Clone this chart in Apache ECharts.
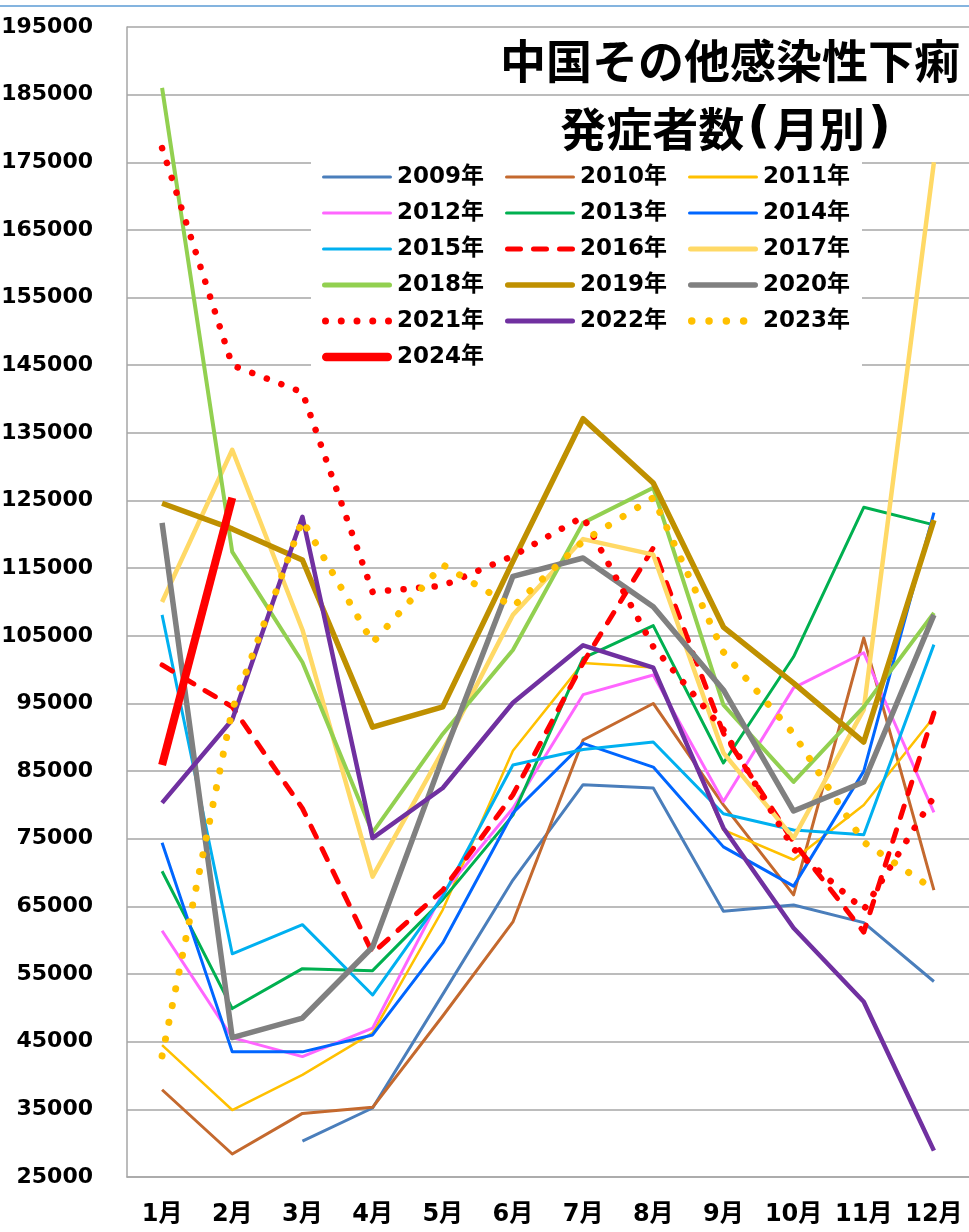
<!DOCTYPE html>
<html>
<head>
<meta charset="utf-8">
<script src="https://cdn.jsdelivr.net/npm/echarts@6/dist/echarts.min.js"></script>
<style>html,body{margin:0;padding:0;background:#fff}#c{width:969px;height:1232px}</style>
</head>
<body>
<div id="c"></div>
<script>
const months = ['1月','2月','3月','4月','5月','6月','7月','8月','9月','10月','11月','12月'];
const titleLine1 = '中国その他感染性下痢';
const titleLine2 = '発症者数{p|(}月別{p|)}';
const y2009 = [null, null, 30300, 35200, 52000, 68900, 83000, 82500, 64300, 65200, 62600, 53900];
const y2010 = [37900, 28400, 34400, 35300, 48800, 62700, 89600, 95000, 80000, 66700, 104700, 67400];
const y2011 = [44500, 34900, 40100, 46300, 64500, 88000, 101000, 100300, 76300, 71900, 80000, 93000];
const y2012 = [61400, 45600, 42800, 47000, 67000, 79500, 96300, 99200, 80500, 97300, 102500, 78900];
const y2013 = [70200, 49900, 55800, 55500, 66000, 78500, 101700, 106500, 86200, 101900, 124000, 121400];
const y2014 = [74400, 43500, 43500, 46000, 59600, 78800, 89100, 85600, 73800, 68000, 85000, 123200];
const y2015 = [108100, 58000, 62300, 51900, 66500, 85900, 88200, 89300, 78700, 76300, 75600, 103700];
const y2016 = [100700, 94500, 79500, 58100, 67400, 81500, 101000, 118000, 90600, 74500, 61200, 93600];
const y2017 = [110000, 132500, 105900, 69400, 88000, 108100, 119300, 117000, 87700, 75100, 94100, 175000];
const y2018 = [186000, 117400, 101100, 75900, 90500, 102900, 121700, 126900, 94800, 83400, 94500, 108400];
const y2019 = [124600, 120800, 116200, 91500, 94500, 116000, 137100, 127600, 106300, 98000, 89300, 122100];
const y2020 = [121700, 45600, 48500, 59000, 87000, 113800, 116500, 109300, 97000, 79100, 83400, 108100];
const y2021 = [177100, 145000, 141000, 111500, 112400, 116800, 122600, 103400, 91100, 73500, 64500, 81200];
const y2022 = [80300, 92600, 122600, 75100, 82500, 95100, 103600, 100300, 76600, 61800, 50900, 28900];
const y2023 = [42900, 94100, 122100, 104000, 115500, 109300, 119000, 125400, 102600, 90500, 74500, 67500];
const y2024 = [85900, 125400, null, null, null, null, null, null, null, null, null, null];

// legend icon path builders (70 px wide icons)
function solidIcon(th) {
  const r = th / 2;
  return `path://M${r} 0H${70 - r}A${r} ${r} 0 0 1 ${70 - r} ${th}H${r}A${r} ${r} 0 0 1 ${r} 0Z`;
}
function dashIcon(th, n, dash, gap) {
  const r = th / 2;
  let p = '';
  for (let k = 0; k < n; k++) {
    const x0 = k * (dash + gap);
    p += `M${x0 + r} 0H${x0 + dash - r}A${r} ${r} 0 0 1 ${x0 + dash - r} ${th}H${x0 + r}A${r} ${r} 0 0 1 ${x0 + r} 0Z`;
  }
  return 'path://' + p;
}
function dotIcon(d, n, step, totalW) {
  const r = d / 2;
  let p = '';
  for (let k = 0; k < n; k++) {
    const cx = r + k * step;
    p += `M${cx - r} ${r}A${r} ${r} 0 1 1 ${cx + r} ${r}A${r} ${r} 0 1 1 ${cx - r} ${r}Z`;
  }
  if (totalW) p += `M${totalW} ${r}`;
  return 'path://' + p;
}

const seriesDefs = [
  {name:'2009年', data:y2009, color:'#4A7EBB', width:3, icon: solidIcon(3)},
  {name:'2010年', data:y2010, color:'#C4692E', width:3, icon: solidIcon(3)},
  {name:'2011年', data:y2011, color:'#FFC000', width:2.5, icon: solidIcon(3)},
  {name:'2012年', data:y2012, color:'#FF66FF', width:3, icon: solidIcon(3)},
  {name:'2013年', data:y2013, color:'#00B050', width:3, icon: solidIcon(3)},
  {name:'2014年', data:y2014, color:'#0066FF', width:3, icon: solidIcon(3)},
  {name:'2015年', data:y2015, color:'#00B0F0', width:3, icon: solidIcon(3)},
  {name:'2016年', data:y2016, color:'#FF0000', width:5, type:[12,13], cap:'round', icon: dashIcon(5, 3, 18, 8)},
  {name:'2017年', data:y2017, color:'#FFD966', width:4.5, icon: solidIcon(5)},
  {name:'2018年', data:y2018, color:'#92D050', width:4, icon: solidIcon(5)},
  {name:'2019年', data:y2019, color:'#BF9000', width:5.5, icon: solidIcon(5.5)},
  {name:'2020年', data:y2020, color:'#808080', width:5.5, icon: solidIcon(5.5)},
  {name:'2021年', data:y2021, color:'#FF0000', width:6.5, type:[0.1,15.5], cap:'round', icon: dotIcon(7, 5, 15.75)},
  {name:'2022年', data:y2022, color:'#7030A0', width:4.5, icon: solidIcon(5)},
  {name:'2023年', data:y2023, color:'#FFC000', width:7, type:[0.1,17], cap:'round', icon: dotIcon(7.5, 4, 17.3, 70)},
  {name:'2024年', data:y2024, color:'#FF0000', width:8, icon: solidIcon(8.5)}
];

const numFont = "'DejaVu Sans', 'Noto Sans CJK JP', sans-serif";
const legendCols = [
  ['2009年','2012年','2015年','2018年','2021年','2024年'],
  ['2010年','2013年','2016年','2019年','2022年'],
  ['2011年','2014年','2017年','2020年','2023年']
];
const legendLeft = [322, 505, 688];
const iconOf = {};
seriesDefs.forEach(d => { iconOf[d.name] = d.icon; });

const chart = echarts.init(document.getElementById('c'), null, {renderer:'canvas'});
const option = {
  animation: false,
  backgroundColor: '#fff',
  title: [
    {text: titleLine1, left: 730, top: 38, textAlign: 'center', padding: 0,
     textStyle: {fontSize: 46, fontWeight: 'bold', color: '#000', fontFamily: "'Noto Sans CJK JP', sans-serif"}},
    {text: titleLine2, left: 727, top: 104, textAlign: 'center', padding: 0,
     textStyle: {fontSize: 46, fontWeight: 'bold', color: '#000', fontFamily: "'Noto Sans CJK JP', sans-serif",
       rich: {p: {fontSize: 50, fontWeight: 'bold', color: '#000', fontFamily: "'DejaVu Sans', sans-serif", padding: [0, 3, 0, 3]}}}}
  ],
  graphic: [
    {type:'line', shape:{x1:0, y1:6, x2:969, y2:6}, style:{stroke:'#5B9BD5', lineWidth:1.5}, z: 10},
    {type:'rect', shape:{x:311, y:155, width:551, height:217}, style:{fill:'#fff'}, z: 1}
  ],
  legend: legendCols.map((col, i) => ({
    orient: 'vertical', left: legendLeft[i], top: 164, padding: 0,
    itemWidth: 70, itemHeight: 14, itemGap: 10, symbolKeepAspect: true,
    data: col.map(n => ({name: n, icon: iconOf[n]})),
    textStyle: {fontSize: 23, fontWeight: 'bold', color: '#000', fontFamily: numFont, lineHeight: 26}
  })),
  grid: {left: 127, right: 0, top: 27, bottom: 55, containLabel: false, outerBoundsMode: 'none'},
  xAxis: {
    type: 'category', data: months, boundaryGap: true,
    axisLine: {show: true, lineStyle: {color: '#A6A6A6', width: 1.5}},
    axisTick: {show: false},
    axisLabel: {margin: 26, fontSize: 24, fontWeight: 'bold', color: '#000', fontFamily: numFont, interval: 0},
    splitLine: {show: false}
  },
  yAxis: {
    type: 'value', min: 25000, max: 195000, interval: 10000,
    axisLine: {show: true, lineStyle: {color: '#A6A6A6', width: 1.5}},
    axisTick: {show: false},
    axisLabel: {margin: 34, fontSize: 22, fontWeight: 'bold', color: '#000', fontFamily: numFont,
      formatter: v => String(v)},
    splitLine: {show: true, lineStyle: {color: '#A6A6A6', width: 1.5}}
  },
  series: seriesDefs.map(d => ({
    name: d.name, type: 'line', data: d.data, showSymbol: false, symbol: 'none',
    connectNulls: false, smooth: false,
    itemStyle: {color: d.color},
    lineStyle: {color: d.color, width: d.width, type: d.type || 'solid', cap: d.cap || 'butt', join: 'round'},
    emphasis: {disabled: true}
  }))
};
chart.setOption(option);
</script>
</body>
</html>
